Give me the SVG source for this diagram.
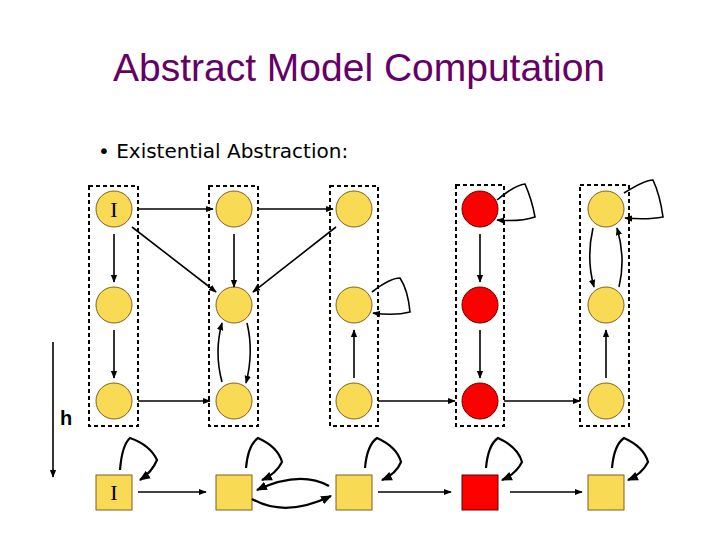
<svg xmlns="http://www.w3.org/2000/svg" width="720" height="540" viewBox="0 0 720 540">
<style>
.y{fill:#f8da55;stroke:#806020;stroke-width:1}
.r{fill:#f00;stroke:#600;stroke-width:1}
.box{fill:none;stroke:#000;stroke-width:2;stroke-dasharray:4,3}
.e{fill:none;stroke:#000;stroke-width:1.6;marker-end:url(#a)}
.l{fill:none;stroke:#000;stroke-width:2.2;marker-end:url(#a)}
.t{font-family:"Liberation Serif",serif;font-size:22px;text-anchor:middle}
</style>
<defs><marker id="a" viewBox="0 0 10 10" refX="9" refY="5" markerWidth="5" markerHeight="5" orient="auto"><path d="M0,1L10,5L0,9z" fill="#000"/></marker></defs>
<rect width="720" height="540" fill="#fff"/>
<text x="359" y="81" font-family="Liberation Sans,sans-serif" font-size="39" fill="#660066" text-anchor="middle">Abstract Model Computation</text>
<text x="98" y="158" font-family="DejaVu Sans,sans-serif" font-size="20">• Existential Abstraction:</text>
<text x="60" y="425" font-family="Liberation Sans,sans-serif" font-size="20" font-weight="bold">h</text>
<g id="c1"><rect class="box" x="89" y="186" width="49" height="240"/><circle class="y" cx="114" cy="209" r="18"/><text class="t" x="114" y="217">I</text><circle class="y" cx="114" cy="305" r="18"/><circle class="y" cx="114" cy="401" r="18"/></g>
<g id="c2"><rect class="box" x="209" y="186" width="49" height="240"/><circle class="y" cx="234" cy="209" r="18"/><circle class="y" cx="234" cy="305" r="18"/><circle class="y" cx="234" cy="401" r="18"/></g>
<g id="c3"><rect class="box" x="330" y="186" width="48" height="240"/><circle class="y" cx="354" cy="209" r="18"/><circle class="y" cx="354" cy="305" r="18"/><circle class="y" cx="354" cy="401" r="18"/></g>
<g id="c4"><rect class="box" x="456" y="185" width="48" height="241"/><circle class="r" cx="480" cy="209" r="18"/><circle class="r" cx="480" cy="305" r="18"/><circle class="r" cx="480" cy="401" r="18"/></g>
<g id="c5"><rect class="box" x="580" y="185" width="49" height="241"/><circle class="y" cx="606" cy="209" r="18"/><circle class="y" cx="606" cy="305" r="18"/><circle class="y" cx="606" cy="401" r="18"/></g>
<g id="s1"><rect class="y" x="96" y="475" width="36" height="35"/><text class="t" x="114" y="500">I</text></g>
<g id="s2"><rect class="y" x="216" y="475" width="36" height="35"/></g>
<g id="s3"><rect class="y" x="336" y="475" width="36" height="35"/></g>
<g id="s4"><rect class="r" x="462" y="475" width="36" height="35"/></g>
<g id="s5"><rect class="y" x="588" y="475" width="36" height="35"/></g>
<g id="connectors">
<path class="e" d="M138,209H213"/><path class="e" d="M258,209H333"/>
<path class="e" d="M138,401H210"/><path class="e" d="M378,401H455"/><path class="e" d="M504,401H580"/>
<path class="e" d="M132,227L216,292"/><path class="e" d="M336,227L253,292"/>
<path class="e" d="M114,234V282"/><path class="e" d="M114,330V378"/>
<path class="e" d="M234,234V287"/>
<path class="e" d="M247,323Q254,352 246,383"/><path class="e" d="M222,382Q214,352 222,323"/>
<path class="e" d="M354,378V330"/>
<path class="e" d="M372,292Q390,278 400,278Q408,290 410,312Q395,316 373,313"/>
<path class="e" d="M480,234V282"/><path class="e" d="M480,330V378"/>
<path class="e" d="M497,200Q515,185 525,184Q532,200 535,217Q520,222 497,220"/>
<path class="e" d="M606,378V330"/>
<path class="e" d="M593,228Q586,258 594,287"/><path class="e" d="M619,287Q626,258 617,228"/>
<path class="e" d="M624,193Q645,180 653,180Q660,195 663,217Q648,220 625,218"/>
<path class="e" d="M138,492H206"/><path class="e" d="M378,492H451"/><path class="e" d="M510,492H582"/>
<path class="l" d="M329,486Q300,470 257,490"/><path class="l" d="M252,499Q285,518 331,496"/>
<path class="l" d="M120,470Q122,445 130,438Q150,445 157,460Q152,472 140,480"/>
<path class="l" d="M246,468Q248,445 258,438Q278,447 282,462Q276,474 262,480"/>
<path class="l" d="M365,468Q367,445 377,438Q397,447 401,462Q396,474 382,480"/>
<path class="l" d="M486,468Q488,445 498,438Q518,447 522,462Q516,474 502,480"/>
<path class="l" d="M612,468Q614,445 624,438Q644,447 648,462Q642,474 628,480"/>
<path class="e" d="M53,342V477"/>
</g>
</svg>
